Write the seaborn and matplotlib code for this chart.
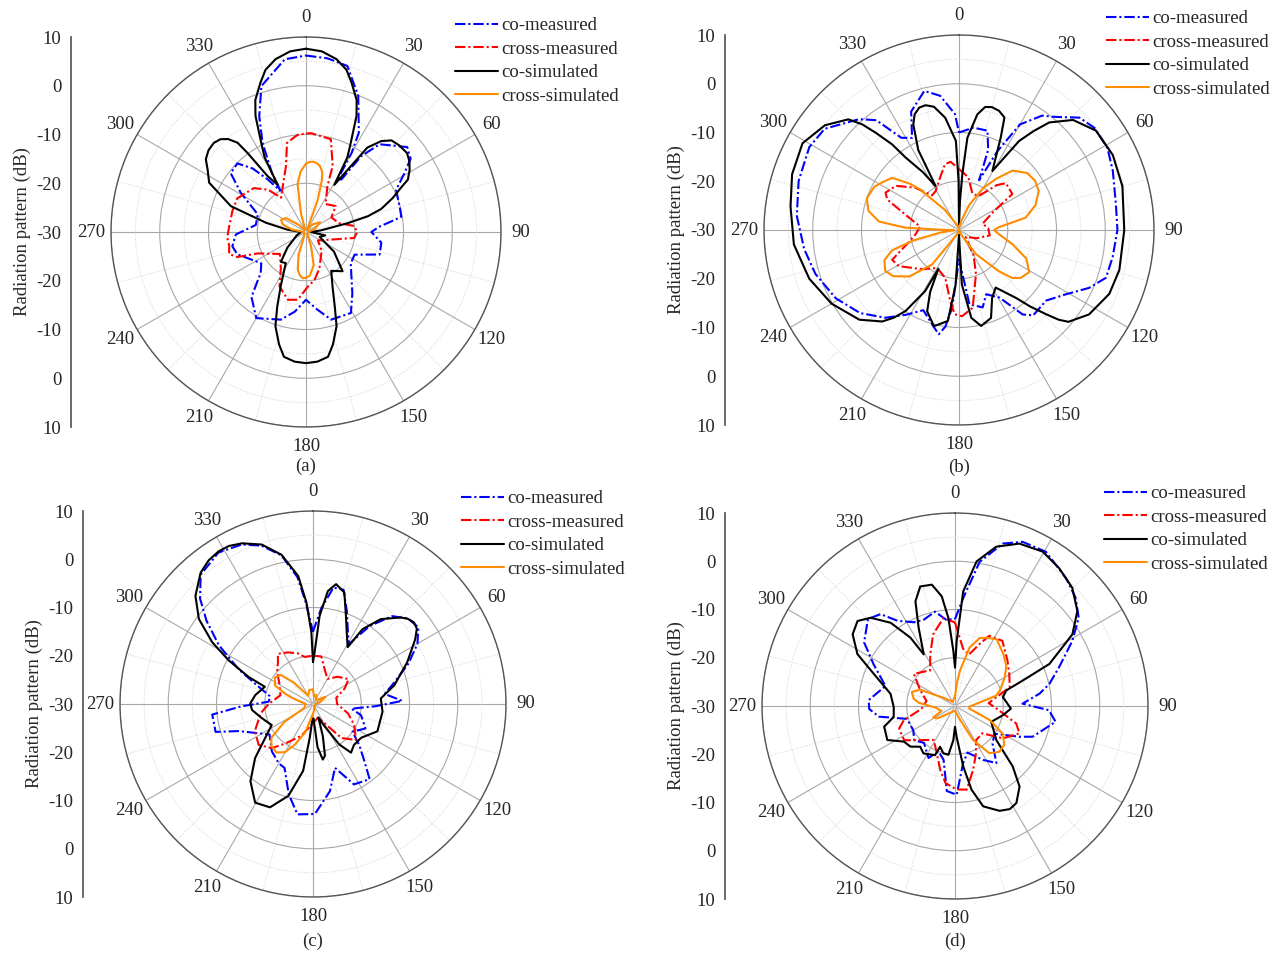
import numpy as np
import matplotlib
matplotlib.use("Agg")
import matplotlib.pyplot as plt
import seaborn as sns

# ---- radiation patterns: angle (deg, clockwise from top) and level (dB) ----

# (a)
a_co_meas_deg = [0, 7, 14, 21, 28, 30, 31, 34, 36, 40, 50, 55, 59, 65, 75, 81, 86, 90, 98, 107, 115, 125, 143,
                 151, 164, 172, 180, 188, 196, 210, 220, 228, 235, 252, 259, 268, 278, 290, 301, 308, 315, 320,
                 324, 328, 330, 334, 338, 343, 353, 360]
a_co_meas_db = [6.2, 5.9, 5.1, -0.1, -6.9, -11.3, -17.4, -17, -10.8, -6.5, -2.9, -3.8, -6.4, -9.6, -10.1, -10.2,
                -15, -16.6, -14.4, -14.2, -19, -18.8, -14.2, -11, -11.3, -14, -16.1, -13.5, -11.3, -9.6, -12.6,
                -17.5, -18.8, -15.2, -14.6, -15.6, -19.6, -19.5, -14.4, -10.4, -10.1, -13, -16.7, -20, -16, -9.7,
                -4.4, 1.3, 5.7, 6.2]
a_cross_meas_deg = [0, 3, 15, 22, 25, 35, 49, 60, 75, 83, 90, 97, 110, 125, 140, 160, 170, 178, 187, 195, 206,
                    215, 230, 246, 250, 254, 260, 266, 274, 286, 296, 310, 318, 324, 333, 343, 348, 355, 360]
a_cross_meas_db = [-9.8, -9.7, -10.3, -15.4, -19.6, -23, -21.9, -24, -23, -20, -19.5, -20, -25.3, -27, -25, -22,
                   -20, -18.8, -16, -15.6, -17.6, -21, -23, -19.2, -15, -13.6, -14, -13.8, -14.2, -14.3, -14.3,
                   -16, -18.3, -21.3, -19.5, -15.9, -11.3, -10, -9.8]
a_co_sim_deg = [0, 5, 10, 14, 17, 21, 23.5, 27, 29, 31, 36, 39.6, 43, 47, 52, 55.6, 59, 62.8, 65, 68.6, 73, 75.7,
                78, 84, 90, 100, 110, 125, 137, 147, 154, 159, 162, 166.5, 170, 175, 180, 185, 190, 193.5, 198,
                201, 205, 213, 220, 230, 250, 270, 277, 283, 289, 297, 302.4, 306, 310, 314, 317.3, 320, 322.5,
                323.5, 325.5, 329, 331, 333, 336.5, 339, 343, 346, 350, 355, 360]
a_co_sim_db = [7.6, 7.2, 6, 4.3, 2, -1, -4, -10, -12.5, -18.7, -8.6, -5.8, -4.3, -3.9, -3.7, -4.3, -5.2, -6.5,
               -8.5, -10.9, -13.9, -16.9, -21.2, -27, -29, -26, -27, -23, -19, -20.5, -17.6, -13.5, -9.7, -6.3,
               -4, -3.3, -3.1, -3.3, -4, -6.3, -9.7, -13.5, -17.7, -22.4, -22, -25, -28, -29, -26.2, -21.6,
               -13.7, -7.7, -6.1, -4.6, -3.9, -3.7, -4.1, -5.1, -6.9, -9.8, -16.1, -18.7, -12.5, -10, -4, -1, 2,
               4.3, 6, 7.2, 7.6]
a_cross_sim_deg = [0, 3, 6, 9, 12, 15, 17, 20, 24, 30, 40, 55, 70, 85, 120, 150, 160, 167, 175, 180, 184, 188,
                   192, 198, 205, 240, 270, 280, 288, 296, 305, 315, 330, 340, 345, 350, 355, 360]
a_cross_sim_db = [-16, -15.6, -15.5, -15.7, -16.2, -17.2, -18.7, -23, -29, -29.5, -28, -26.5, -28, -29.5, -29.5,
                  -29.5, -27, -23, -21, -20.6, -20.5, -21, -22, -25, -29, -29.5, -29.5, -27, -25, -24.3, -25, -28,
                  -29.5, -29.5, -26, -20, -17.5, -16]

# (b)
b_co_meas_deg = [0, 8, 16, 20, 22, 26, 30, 36, 40, 47, 53, 61, 69, 81, 90, 100, 108, 114, 121, 129, 139, 143,
                 149, 157, 163, 172, 180, 185, 188, 191, 196, 204, 212, 220, 230, 241, 253, 263, 275, 287, 299,
                 307, 318, 323, 328, 333, 338, 346, 352, 358, 360]
b_co_meas_db = [-10, -8.8, -8.8, -12.5, -19, -12, -5, -1, 0.3, 3.8, 4.8, 4.8, 3.8, 2.6, 2.5, 2, 1.7, -0.8, -4.4,
                -7, -6.8, -8.3, -13.8, -15.7, -13.4, -14.6, -24, -14, -10, -8.2, -9.9, -12, -9.5, -6.5, -3.5,
                -1.1, 0.8, 2, 3.4, 4.4, 5.1, 4.5, 0.6, -1.8, -7.7, -8.8, -3.8, -0.6, -2.2, -6.2, -10]
b_cross_meas_deg = [0, 10, 20, 30, 40, 45, 56, 62, 75, 86, 100, 115, 135, 150, 159, 170, 178, 183, 187, 196,
                    210, 223, 239, 246, 255, 264, 275, 285, 293, 297, 305, 314, 322, 329, 340, 348, 353, 360]
b_cross_meas_db = [-17.5, -19, -22, -22, -18, -16.4, -16.8, -22, -25, -24, -23.6, -26, -28, -24, -20.3, -13.8,
                   -12.3, -12.7, -15.3, -19.8, -21, -19, -15.6, -15, -19, -21, -22, -19, -14, -13.1, -14.2,
                   -17.5, -21, -20.7, -18.6, -16.2, -15.9, -17.5]
b_co_sim_deg = [0, 2, 3.4, 5.2, 9, 12, 15, 18.5, 22, 24.3, 29.5, 34, 37, 40, 46, 54, 64, 75, 90, 104, 113, 123,
                130, 132, 134, 137, 140, 147.5, 154, 160, 167, 172, 177, 180, 183.5, 187, 194.6, 201.4, 205, 208,
                209, 213.4, 216.6, 220, 228, 240, 252, 265, 278, 288.5, 299, 308, 315, 317.5, 319.4, 322, 323.6,
                328, 332, 333, 336.6, 339, 342, 345, 348.5, 353, 358, 359.5, 360]
b_co_sim_db = [-29, -24, -18.6, -11, -6, -4.2, -3.9, -4.2, -5.1, -9.2, -16.1, -8, -4.6, -1.2, 2.5, 4.7, 5.1, 4.7,
               3.9, 3.9, 3.5, 1.8, -0.7, -2.5, -5.1, -8.5, -11.8, -16, -14.5, -10.8, -9.8, -11.8, -18.8, -29,
               -18.8, -11.2, -9.6, -12.1, -16, -21, -15.7, -10.1, -7.6, -5.5, -2.5, 0.2, 2.3, 4, 4.9, 6.1, 6.7,
               4.9, 2.1, -0.6, -3.7, -7.7, -11.5, -16, -19.8, -11.6, -6.4, -4.6, -3.6, -3.5, -4.2, -6.8, -11.7,
               -20, -29]
b_cross_sim_deg = [0, 15, 22, 30, 36, 42, 50, 57, 64, 72, 79.5, 86, 90, 95, 105, 113, 121, 128, 132, 136, 145,
                   155, 180, 205, 218, 227, 235, 241, 248, 253, 257, 262, 268, 271, 272.5, 276, 282, 289, 297,
                   302, 308, 313, 316, 325, 340, 360]
b_cross_sim_db = [-29.5, -28, -24.5, -20, -17, -13.6, -11.8, -11.4, -11.8, -13.5, -16.1, -21.8, -22.8, -22,
                  -18.6, -15, -13.2, -14, -15.3, -18.2, -24, -29, -30, -29, -21, -16, -13.5, -12.7, -13.5, -15.6,
                  -20.2, -26, -29, -26, -19, -13.5, -11, -10, -10.5, -11.5, -12.6, -16, -18.3, -25, -29, -29.5]

# (c)
c_co_meas_deg = [0, 5, 10, 15, 20, 26, 31, 36, 42, 48, 54, 60, 67, 75, 82, 88, 92, 97, 103, 115, 125, 132, 138,
                 143, 153, 161, 169, 179, 188, 195, 204, 210, 221, 235, 250, 254, 264, 268, 273, 280, 288, 295,
                 302, 308, 313, 319, 328, 336, 342, 348, 353, 356, 360]
c_co_meas_db = [-15, -10, -5.5, -5.5, -9.5, -13.5, -15.5, -10, -5.5, -3.5, -3, -5, -8.5, -12.5, -15, -11.5, -17,
                -22, -19.8, -18, -20, -17, -14.1, -10.5, -11.3, -16, -11.6, -7.2, -6.9, -10.6, -15.5, -15.8, -17,
                -19, -13.6, -9, -9, -15, -20.8, -21, -18, -13, -7, -2, 2, 5.5, 7, 6.2, 4.5, 1.5, -3.5, -9, -15]
c_cross_meas_deg = [0, 10, 18, 30, 42, 55, 64, 75, 90, 105, 117, 130, 140, 160, 180, 200, 215, 223, 233, 245,
                    260, 270, 285, 300, 312, 320, 325, 334, 343, 350, 360]
c_cross_meas_db = [-20, -20, -22.3, -24, -22.4, -21, -22.7, -25, -25, -22.5, -20.4, -18.4, -20.8, -27, -26, -23,
                   -20, -17.5, -15.9, -16.7, -19, -20.8, -23, -22, -20, -18.7, -17.3, -18.1, -19, -20.1, -20]
c_co_sim_deg = [0, 1.8, 4.3, 7.5, 10.9, 15.7, 20.5, 26, 31.4, 33.5, 38.6, 45.3, 48, 51, 54, 57.6, 66, 77, 85.3,
                96.3, 113, 125, 135, 142, 147, 153, 158, 163, 167, 170, 174, 178, 182, 185.5, 188.4, 195, 202.6,
                210.4, 219, 227, 235, 243, 254.5, 264.4, 270.6, 278.8, 289.7, 292.8, 297.4, 301.5, 306.7, 312.6,
                319.4, 324, 328.3, 332, 336.2, 342.2, 348.1, 353.4, 356.3, 358.7, 360]
c_co_sim_db = [-21.3, -19.2, -11.7, -6.4, -4.7, -6, -10.5, -14, -16.2, -11.4, -7.5, -4.5, -3.6, -3.1, -3.4, -4.9,
               -8.6, -12.7, -15.9, -15.5, -15.5, -17.8, -18, -17.2, -20, -25, -27, -23, -19, -18.3, -21, -27, -27,
               -23, -16, -10.3, -6.8, -6.3, -9.4, -13.6, -18, -20.4, -19, -17.3, -17, -17.9, -19.4, -15.5, -10.3,
               -5.5, -0.5, 3.1, 5.8, 6.8, 7.2, 7.1, 6.4, 4.7, 1.6, -3.3, -8.9, -15.1, -21.3]
c_cross_sim_deg = [0, 8, 20, 35, 50, 60, 75, 90, 130, 160, 180, 195, 204, 210, 217, 225, 231, 238, 245, 270, 285,
                   290, 296, 305, 312, 318, 330, 345, 360]
c_cross_sim_db = [-27, -28.5, -28, -29, -28.5, -27, -28.5, -29.5, -29.5, -29, -28, -24, -20.8, -18.5, -17.4,
                  -17.8, -18.9, -23, -28, -28.5, -26, -24, -21.2, -20.4, -21, -24, -28, -27, -27]

# (d)
d_co_meas_deg = [0, 4.4, 9.7, 16.4, 22.4, 30.5, 41, 48, 54.5, 61, 69.6, 76.8, 81.7, 88, 92.6, 98.9, 111.6, 115.5,
                 125, 135, 144, 152.5, 165, 172, 178.9, 185.5, 192, 200, 207, 220, 230, 240, 255, 262, 268, 274,
                 286, 297, 305, 315, 321, 326, 334, 340, 348, 354, 360]
d_co_meas_db = [-12, -7.5, 0.3, 5.1, 6.8, 7.1, 5.1, 3.6, 1.5, -2.2, -7, -9.9, -12.3, -16, -10.5, -8.9, -12.7,
                -15.2, -20, -19, -15.4, -17.4, -20, -18, -11.6, -12.3, -18.6, -20, -17.9, -20, -19, -20, -19.7,
                -14.1, -12.2, -12.1, -15, -11.1, -7, -4.5, -5.5, -8.7, -10.7, -11, -10, -12, -12]
d_cross_meas_deg = [0, 8, 15, 22, 26, 36, 49, 60, 71, 85, 95, 106, 113, 124, 135, 148, 157, 164, 172, 179, 187,
                    193, 203, 212, 225, 236, 248, 254.5, 265, 280, 295, 308, 316, 325, 334.5, 343, 352.5, 360]
d_cross_meas_db = [-12.7, -18, -19, -16, -13.8, -13.3, -15.6, -17, -18, -23, -21, -16.8, -15.5, -18, -22, -21.7,
                   -19, -16.3, -12.5, -12.7, -13.9, -16.4, -20, -21.7, -20, -17.3, -17.5, -19, -23, -24, -22,
                   -19.2, -20.2, -21, -18.1, -14.5, -11.6, -12.7]
d_co_sim_deg = [0, 1.5, 4.1, 8.5, 14.5, 21.6, 29.6, 37.1, 44.8, 52.2, 58.6, 61.4, 66, 69.4, 73.1, 79.5, 92.7,
                100.9, 113.6, 129.5, 136.3, 141.3, 147.7, 152, 157, 164.3, 168.8, 172.2, 177, 180, 182.8, 187.7,
                193.8, 200.1, 202.1, 213.6, 220.5, 227.7, 235.1, 243.3, 253.7, 259.9, 269, 280.7, 291.6, 298, 305,
                311.1, 316.3, 322.3, 326.9, 328.8, 335.1, 339.3, 343.8, 349.2, 353.1, 355.7, 358.3, 360]
d_co_sim_db = [-22, -16.5, -6.2, 0.3, 4.1, 6.2, 6.8, 5.8, 4.5, 2.1, -1.5, -4.7, -8.6, -15, -18.9, -19.9, -18.4,
               -19.9, -21.8, -18.9, -12.7, -8.6, -6.2, -5.8, -6.4, -8.4, -12.3, -17.3, -23.6, -25.7, -22.9, -19.8,
               -19.9, -21, -19, -18.2, -18.9, -17.5, -17.1, -14.3, -14.7, -17.1, -17.3, -16.4, -11.9, -7.1, -4.1,
               -3.2, -4.7, -8.2, -13.1, -17.5, -12.1, -6.8, -4.2, -4.4, -7.1, -11.7, -18.6, -22]
d_cross_sim_deg = [0, 5, 8, 14, 20, 25, 32, 43, 52, 60, 70, 76, 84, 92, 100, 105, 112, 120, 128, 136, 144, 152,
                   160, 180, 220, 235, 242, 250, 265, 275, 280, 288, 295, 305, 330, 360]
d_cross_sim_db = [-28, -25, -22.6, -17.5, -15, -14.4, -13.7, -15.3, -16.5, -18.1, -20, -21.2, -25.5, -27, -27,
                  -26, -22.2, -18.6, -17, -16.8, -17.9, -22, -27, -29, -28, -25.5, -24.9, -27, -26, -22.5, -21.3,
                  -20.6, -22, -27, -29, -28]

series_labels = ["co-measured", "cross-measured", "co-simulated", "cross-simulated"]
angle_labels = [str(d) for d in range(0, 360, 30)]

# ---- styling ----
W, H = 1288, 955
COLORS = ["#0000ff", "#ff0000", "#000000", "#ff8c00"]
DASHDOT = (0, (5, 1.4, 1, 1.4))
STYLES = [DASHDOT, DASHDOT, "-", "-"]
FS = 13.5


def draw_panel(fig, curves, center, radius, axis_x, legend_xy, caption, caption_y):
    cx, cy = center
    rect = [(cx - radius) / W, 1 - (cy + radius) / H, 2 * radius / W, 2 * radius / H]

    ax = fig.add_axes(rect, projection="polar")
    ax.set_theta_zero_location("N")
    ax.set_theta_direction(-1)

    handles = []
    for (deg, db), color, ls in zip(curves, COLORS, STYLES):
        sns.lineplot(x=np.deg2rad(deg), y=db, ax=ax, sort=False, estimator=None,
                     color=color, linestyle=ls, linewidth=1.5)
        handles.append(ax.lines[-1])

    ax.set_ylim(-30, 10)
    ax.set_yticks([-20, -10, 0, 10])
    ax.set_yticks([-25, -15, -5, 5], minor=True)
    ax.set_yticklabels([])
    ax.set_xticks(np.deg2rad(np.arange(0, 360, 30)))
    ax.set_xticklabels(angle_labels)
    ax.set_xticks(np.deg2rad(np.arange(15, 360, 30)), minor=True)
    ax.grid(which="major", color="#a8a8a8", linewidth=0.8, linestyle="-")
    ax.grid(which="minor", color="#d2d2d2", linewidth=0.7, linestyle=":")
    ax.tick_params(which="both", length=0)
    ax.tick_params(axis="x", pad=7, labelsize=FS)
    ax.spines["polar"].set_color("#555555")
    ax.spines["polar"].set_linewidth(1.0)
    ax.set_xlabel("")
    ax.set_ylabel("")

    # linear dB scale on the left, mirrored around the centre
    lax = fig.add_axes([axis_x / W, rect[1], 0.0001, rect[3]])
    lax.set_ylim(-40, 40)
    ticks = np.arange(-40, 41, 10)
    lax.set_yticks(ticks)
    lax.set_yticklabels([str(abs(t) - 30) for t in ticks])
    lax.set_yticks(np.arange(-35, 40, 10), minor=True)
    lax.set_xticks([])
    for side in ("top", "right", "bottom"):
        lax.spines[side].set_visible(False)
    lax.spines["left"].set_color("#555555")
    lax.tick_params(axis="y", which="major", length=5, color="#555555", labelsize=FS, pad=2)
    lax.tick_params(axis="y", which="minor", length=3, color="#555555")
    lax.patch.set_visible(False)
    lax.set_ylabel("Radiation pattern (dB)", fontsize=FS, labelpad=4)

    lx, ly = legend_xy
    fig.legend(handles, series_labels, loc="upper left", bbox_to_anchor=(lx / W, 1 - ly / H),
               frameon=False, fontsize=FS, handlelength=2.3, handletextpad=0.15,
               labelspacing=0.34, borderpad=0, borderaxespad=0)

    fig.text(cx / W, 1 - caption_y / H, caption, ha="center", va="center", fontsize=FS)


sns.set_theme(style="white")
plt.rcParams["font.family"] = ["Liberation Serif", "DejaVu Serif"]

fig = plt.figure(figsize=(W / 100, H / 100), dpi=100)

draw_panel(fig,
           [(a_co_meas_deg, a_co_meas_db), (a_cross_meas_deg, a_cross_meas_db),
            (a_co_sim_deg, a_co_sim_db), (a_cross_sim_deg, a_cross_sim_db)],
           center=(306, 232), radius=195, axis_x=71, legend_xy=(455, 17), caption="(a)", caption_y=466)
draw_panel(fig,
           [(b_co_meas_deg, b_co_meas_db), (b_cross_meas_deg, b_cross_meas_db),
            (b_co_sim_deg, b_co_sim_db), (b_cross_sim_deg, b_cross_sim_db)],
           center=(959, 230), radius=195, axis_x=725, legend_xy=(1106, 10), caption="(b)", caption_y=467)
draw_panel(fig,
           [(c_co_meas_deg, c_co_meas_db), (c_cross_meas_deg, c_cross_meas_db),
            (c_co_sim_deg, c_co_sim_db), (c_cross_sim_deg, c_cross_sim_db)],
           center=(313, 704), radius=193, axis_x=83, legend_xy=(461, 490), caption="(c)", caption_y=941)
draw_panel(fig,
           [(d_co_meas_deg, d_co_meas_db), (d_cross_meas_deg, d_cross_meas_db),
            (d_co_sim_deg, d_co_sim_db), (d_cross_sim_deg, d_cross_sim_db)],
           center=(955, 706), radius=193, axis_x=725, legend_xy=(1104, 485), caption="(d)", caption_y=941)

fig.savefig("out.png", dpi=100)
plt.close(fig)
